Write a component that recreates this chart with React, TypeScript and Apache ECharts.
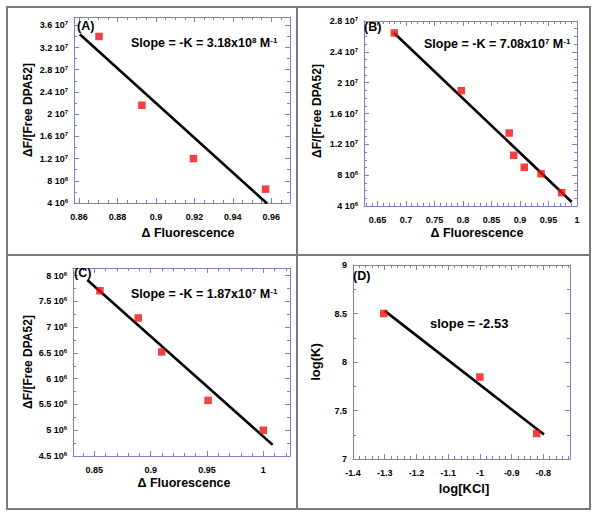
import React, { useEffect, useRef } from 'react';
import * as echarts from 'echarts';

// ---- Panel A ----
const aX = [0.8704, 0.8927, 0.9195, 0.957];
const aY = [3.40e7, 2.16e7, 1.20e7, 6.5e6];
const aFitX = [0.8604, 0.9578];
const aFitY = [3.44e7, 3.9e6];
const aXTicks = [0.86, 0.88, 0.9, 0.92, 0.94, 0.96];
const aYTicks = [4e6, 8e6, 1.2e7, 1.6e7, 2e7, 2.4e7, 2.8e7, 3.2e7, 3.6e7];

// ---- Panel B ----
const bX = [0.6795, 0.797, 0.881, 0.889, 0.9075, 0.937, 0.973];
const bY = [2.645e7, 1.897e7, 1.347e7, 1.058e7, 9.03e6, 8.18e6, 5.73e6];
const bFitX = [0.679, 0.9907];
const bFitY = [2.645e7, 4.52e6];
const bXTicks = [0.65, 0.7, 0.75, 0.8, 0.85, 0.9, 0.95, 1];
const bYTicks = [4e6, 8e6, 1.2e7, 1.6e7, 2e7, 2.4e7, 2.8e7];

// ---- Panel C ----
const cX = [0.855, 0.889, 0.9098, 0.951, 1.0];
const cY = [7.71e6, 7.18e6, 6.52e6, 5.58e6, 5.0e6];
const cFitX = [0.8438, 1.0083];
const cFitY = [7.917e6, 4.716e6];
const cXTicks = [0.85, 0.9, 0.95, 1];
const cYTicks = [4.5e6, 5e6, 5.5e6, 6e6, 6.5e6, 7e6, 7.5e6, 8e6];

// ---- Panel D ----
const dX = [-1.303, -1.0, -0.821];
const dY = [8.5, 7.845, 7.263];
const dFitX = [-1.3, -0.798];
const dFitY = [8.527, 7.253];
const dXTicks = [-1.4, -1.3, -1.2, -1.1, -1, -0.9, -0.8];
const dYTicks = [7, 7.5, 8, 8.5, 9];

const AXIS = '#8080c8';
const FONT = '"Liberation Sans", Arial, Helvetica, sans-serif';

function minorTicks(min: number, max: number, step: number) {
  const out: number[] = [];
  const k0 = Math.ceil(min / step - 1e-9);
  const k1 = Math.floor(max / step + 1e-9);
  for (let k = k0; k <= k1; k++) out.push(+(k * step).toFixed(10));
  return out;
}

function sciLabel(v: number) {
  const exp = Math.floor(Math.log10(v) + 1e-9);
  const m = +(v / Math.pow(10, exp)).toFixed(2);
  return `${m} 10{sup|${exp}}`;
}

function plainLabel(v: number) {
  return String(+v.toFixed(4));
}

const supRich = {
  sup: { fontSize: 6, fontWeight: 'bold', fontFamily: FONT, verticalAlign: 'top', lineHeight: 6, color: '#000' },
};

function makeAxes(
  gi: number,
  kind: 'x' | 'y',
  range: [number, number],
  majors: number[],
  minorStep: number,
  fmt: (v: number) => string
) {
  const minors = minorTicks(range[0], range[1], minorStep);
  const base = {
    type: 'value',
    gridIndex: gi,
    min: range[0],
    max: range[1],
    scale: true,
    splitLine: { show: false },
  };
  const posMain = kind === 'x' ? 'bottom' : 'left';
  const posOpp = kind === 'x' ? 'top' : 'right';
  const mk = (position: string, ticks: number[], len: number, showLine: boolean, showLabel: boolean) => ({
    ...base,
    position,
    axisLine: { show: showLine, onZero: false, lineStyle: { color: AXIS, width: 1 } },
    axisTick: { show: true, inside: true, length: len, customValues: ticks, lineStyle: { color: AXIS, width: 1 } },
    axisLabel: showLabel
      ? {
          show: true,
          customValues: majors,
          formatter: fmt,
          fontSize: 9,
          fontWeight: 'bold',
          fontFamily: FONT,
          color: '#000',
          margin: kind === 'x' ? 9 : 6,
          lineHeight: 10,
          rich: supRich,
        }
      : { show: false },
  });
  return [
    mk(posMain, majors, 5, true, true),
    mk(posMain, minors, 3, false, false),
    mk(posOpp, majors, 5, true, false),
    mk(posOpp, minors, 3, false, false),
  ];
}

const zip = (xs: number[], ys: number[]) => xs.map((x, i) => [x, ys[i]]);

function txt(x: number, y: number, text: string, size: number, opts: any = {}) {
  return {
    type: 'text',
    x,
    y,
    rotation: opts.rotation || 0,
    style: {
      text,
      fontSize: size,
      fontWeight: 'bold',
      fontFamily: FONT,
      fill: '#000',
      align: opts.align || 'left',
      verticalAlign: 'middle',
      rich: {
        sup: { fontSize: Math.round(size * 0.62), fontWeight: 'bold', fontFamily: FONT, verticalAlign: 'top', lineHeight: 7, fill: '#000' },
      },
    },
    z: 10,
  };
}

export default function App() {
  const ref = useRef<HTMLDivElement>(null);
  useEffect(() => {
    if (!ref.current) return;
    const chart = echarts.init(ref.current, undefined, { renderer: 'svg' });

    const panels = [
      { grid: { left: 74, top: 17, width: 216, height: 186 }, xr: [0.8574, 0.9697], yr: [4e6, 3.75e7], xt: aXTicks, yt: aYTicks, xm: 0.005, ym: 2e6, xf: plainLabel, yf: sciLabel, px: aX, py: aY, fx: aFitX, fy: aFitY },
      { grid: { left: 364, top: 21, width: 213, height: 185 }, xr: [0.6263, 1.0], yr: [4e6, 2.8e7], xt: bXTicks, yt: bYTicks, xm: 0.01, ym: 1e6, xf: plainLabel, yf: sciLabel, px: bX, py: bY, fx: bFitX, fy: bFitY },
      { grid: { left: 73, top: 268, width: 217, height: 188 }, xr: [0.8311, 1.0237], yr: [4.5e6, 8.15e6], xt: cXTicks, yt: cYTicks, xm: 0.01, ym: 2.5e5, xf: plainLabel, yf: sciLabel, px: cX, py: cY, fx: cFitX, fy: cFitY },
      { grid: { left: 353, top: 265, width: 217, height: 194 }, xr: [-1.4, -0.716], yr: [7, 9], xt: dXTicks, yt: dYTicks, xm: 0.02, ym: 0.25, xf: plainLabel, yf: plainLabel, px: dX, py: dY, fx: dFitX, fy: dFitY },
    ];

    const grids: any[] = [];
    const xAxes: any[] = [];
    const yAxes: any[] = [];
    const series: any[] = [];
    panels.forEach((p, i) => {
      grids.push({ ...p.grid, containLabel: false });
      xAxes.push(...makeAxes(i, 'x', p.xr as [number, number], p.xt, p.xm, p.xf));
      yAxes.push(...makeAxes(i, 'y', p.yr as [number, number], p.yt, p.ym, p.yf));
      series.push({
        type: 'line',
        xAxisIndex: 4 * i,
        yAxisIndex: 4 * i,
        data: zip(p.fx, p.fy),
        symbol: 'none',
        lineStyle: { color: '#000', width: 2.6 },
        z: 2,
        silent: true,
      });
      series.push({
        type: 'scatter',
        xAxisIndex: 4 * i,
        yAxisIndex: 4 * i,
        data: zip(p.px, p.py),
        symbol: 'rect',
        symbolSize: 7.5,
        itemStyle: { color: '#ee1111' },
        z: 3,
        silent: true,
      });
    });

    const border = { stroke: '#7a7a7a', lineWidth: 2, fill: 'none' };
    const graphic: any[] = [
      { type: 'rect', shape: { x: 7, y: 7, width: 583, height: 502 }, style: border, z: 1 },
      { type: 'line', shape: { x1: 297, y1: 7, x2: 297, y2: 509 }, style: { stroke: '#7a7a7a', lineWidth: 2 }, z: 1 },
      { type: 'line', shape: { x1: 7, y1: 255, x2: 590, y2: 255 }, style: { stroke: '#7a7a7a', lineWidth: 2 }, z: 1 },
      // panel labels
      txt(77, 25.5, '(A)', 12.5),
      txt(364, 27, '(B)', 12.5),
      txt(74, 272.5, '(C)', 12.5),
      txt(353, 275.5, '(D)', 12.5),
      // slope annotations
      txt(131, 43, 'Slope = -K = 3.18x10{sup|8} M{sup|-1}', 12.5),
      txt(424, 43.5, 'Slope = -K = 7.08x10{sup|7} M{sup|-1}', 12.5),
      txt(131, 293.5, 'Slope = -K = 1.87x10{sup|7} M{sup|-1}', 12.5),
      txt(430, 323, 'slope = -2.53', 13),
      // axis titles
      txt(188, 233, 'Δ Fluorescence', 12.5, { align: 'center' }),
      txt(477, 233, 'Δ Fluorescence', 12.5, { align: 'center' }),
      txt(184, 482.5, 'Δ Fluorescence', 12.5, { align: 'center' }),
      txt(464, 488, 'log[KCl]', 13, { align: 'center' }),
      txt(28, 110, 'ΔF/[Free DPA52]', 12, { align: 'center', rotation: Math.PI / 2 }),
      txt(317, 111, 'ΔF/[Free DPA52]', 12, { align: 'center', rotation: Math.PI / 2 }),
      txt(28, 362, 'ΔF/[Free DPA52]', 12, { align: 'center', rotation: Math.PI / 2 }),
      txt(315, 362, 'log(K)', 13, { align: 'center', rotation: Math.PI / 2 }),
    ];

    chart.setOption({
      animation: false,
      backgroundColor: '#fff',
      grid: grids,
      xAxis: xAxes,
      yAxis: yAxes,
      series,
      graphic,
    });
    return () => chart.dispose();
  }, []);
  return <div ref={ref} style={{ position: 'absolute', left: 0, top: 0, width: 600, height: 519 }} />;
}
